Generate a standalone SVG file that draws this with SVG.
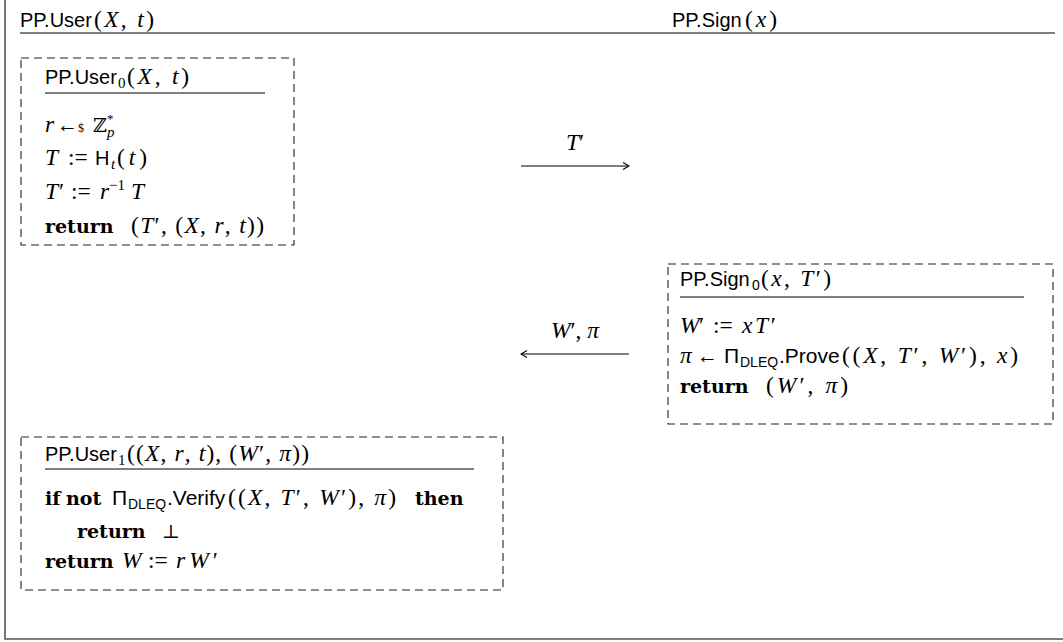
<svg xmlns="http://www.w3.org/2000/svg" width="1063" height="642" viewBox="0 0 1063 642">
<defs>
<style>
text{font-size:23.5px;fill:#000;font-family:"Liberation Serif","DejaVu Serif",serif}
.sf{font-family:"Liberation Sans","DejaVu Sans",sans-serif;font-size:20px}
.sf21{font-family:"Liberation Sans","DejaVu Sans",sans-serif;font-size:21px}
.ss{font-family:"Liberation Sans","DejaVu Sans",sans-serif;font-size:14px}
.mi{font-style:italic}
.bf{font-family:"DejaVu Serif",serif;font-weight:bold;font-size:19px}
.sm{font-size:15px}
.bb{font-family:"DejaVu Serif",serif;font-size:19px}
.ar{font-size:21px}
.dash{fill:none;stroke:#222;stroke-width:1.1;stroke-dasharray:8 5}
.rule{stroke:#000;stroke-width:1}
.frame{fill:none;stroke:#555;stroke-width:1.6}
.conn{stroke:#000;stroke-width:1.1;fill:none}
</style>
<marker id="head" viewBox="0 0 10 10" refX="9" refY="5" markerWidth="10" markerHeight="10" markerUnits="userSpaceOnUse" orient="auto-start-reverse">
<path d="M3,1.5 L9,5 L3,8.5" fill="none" stroke="#000" stroke-width="1.1"/>
</marker>
</defs>
<rect width="1063" height="642" fill="#fff"/>

<g id="frame">
<polyline class="frame" points="5,0 5,639 1063,639"/>
<line class="frame" x1="20" y1="33" x2="1055" y2="33"/>
<text y="27"><tspan class="sf" x="20">PP.User</tspan><tspan x="94" textLength="60" lengthAdjust="spacing">(<tspan class="mi">X</tspan>, <tspan class="mi">t</tspan>)</tspan></text>
<text y="27"><tspan class="sf" x="672">PP.Sign</tspan><tspan x="745" textLength="32" lengthAdjust="spacing">(<tspan class="mi">x</tspan>)</tspan></text>
</g>

<g id="user0">
<rect class="dash" x="21" y="58" width="273" height="187"/>
<text y="84"><tspan class="sf" x="45">PP.User</tspan><tspan class="sm" x="118" dy="4">0</tspan><tspan x="127" dy="-4" textLength="62" lengthAdjust="spacing">(<tspan class="mi">X</tspan>, <tspan class="mi">t</tspan>)</tspan></text>
<line class="rule" x1="45" y1="93" x2="265" y2="93"/>
<text y="132"><tspan class="mi" x="45">r</tspan><tspan class="ar" x="57">←</tspan><tspan x="78" font-size="12">$</tspan><tspan class="bb" x="93">ℤ</tspan><tspan font-size="13" x="107" dy="-9">*</tspan></text>
<text y="137"><tspan class="mi sm" x="107">p</tspan></text>
<text y="165"><tspan class="mi" x="45">T</tspan><tspan x="68">:=</tspan><tspan class="sf" x="95">H</tspan><tspan class="mi sm" x="111" dy="4">t</tspan><tspan x="117" dy="-4" textLength="30" lengthAdjust="spacing">(<tspan class="mi">t</tspan>)</tspan></text>
<text y="199"><tspan class="mi" x="45">T</tspan><tspan x="59">′</tspan><tspan x="71">:=</tspan><tspan class="mi" x="100">r</tspan><tspan class="sm" x="109" dy="-9">−1</tspan><tspan class="mi" x="131" dy="9">T</tspan></text>
<text y="233"><tspan class="bf" x="45">return</tspan><tspan x="131" textLength="133" lengthAdjust="spacing">(<tspan class="mi">T</tspan>′, (<tspan class="mi">X</tspan>, <tspan class="mi">r</tspan>, <tspan class="mi">t</tspan>))</tspan></text>
</g>

<g id="sign0">
<rect class="dash" x="668" y="264" width="385" height="160"/>
<text y="286"><tspan class="sf" x="680">PP.Sign</tspan><tspan class="ss" x="752" dy="4">0</tspan><tspan x="761" dy="-4" textLength="70" lengthAdjust="spacing">(<tspan class="mi">x</tspan>, <tspan class="mi">T</tspan>′)</tspan></text>
<line class="rule" x1="680" y1="297" x2="1024" y2="297"/>
<text y="333"><tspan class="mi" x="680">W</tspan><tspan x="699">′</tspan><tspan x="713">:=</tspan><tspan x="742" textLength="34" lengthAdjust="spacing"><tspan class="mi">xT</tspan>′</tspan></text>
<text y="363"><tspan class="mi" x="680">π</tspan><tspan class="ar" x="697">←</tspan><tspan class="sf21" x="724">Π</tspan><tspan class="ss" x="740" dy="4">DLEQ</tspan><tspan class="sf21" x="779" dy="-4">.Prove</tspan><tspan x="842" textLength="176" lengthAdjust="spacing">((<tspan class="mi">X</tspan>, <tspan class="mi">T</tspan>′, <tspan class="mi">W</tspan>′), <tspan class="mi">x</tspan>)</tspan></text>
<text y="393"><tspan class="bf" x="680">return</tspan><tspan x="766" textLength="82" lengthAdjust="spacing">(<tspan class="mi">W</tspan>′, <tspan class="mi">π</tspan>)</tspan></text>
</g>

<g id="user1">
<rect class="dash" x="21" y="437" width="482" height="153"/>
<text y="461"><tspan class="sf" x="45">PP.User</tspan><tspan class="sm" x="118" dy="4">1</tspan><tspan x="127" dy="-4" textLength="182" lengthAdjust="spacing">((<tspan class="mi">X</tspan>, <tspan class="mi">r</tspan>, <tspan class="mi">t</tspan>), (<tspan class="mi">W</tspan>′, <tspan class="mi">π</tspan>))</tspan></text>
<line class="rule" x1="45" y1="469" x2="474" y2="469"/>
<text y="505"><tspan class="bf" x="45">if</tspan><tspan class="bf" x="66">not</tspan><tspan class="sf21" x="112">Π</tspan><tspan class="ss" x="128" dy="4">DLEQ</tspan><tspan class="sf21" x="167" dy="-4">.Verify</tspan><tspan x="228" textLength="168" lengthAdjust="spacing">((<tspan class="mi">X</tspan>, <tspan class="mi">T</tspan>′, <tspan class="mi">W</tspan>′), <tspan class="mi">π</tspan>)</tspan><tspan class="bf" x="415">then</tspan></text>
<text y="538"><tspan class="bf" x="77">return</tspan><tspan class="bb" x="162">⊥</tspan></text>
<text y="568"><tspan class="bf" x="45">return</tspan><tspan class="mi" x="122">W</tspan><tspan x="148">:=</tspan><tspan x="176" textLength="42" lengthAdjust="spacing"><tspan class="mi">rW</tspan>′</tspan></text>
</g>

<g id="connectors">
<line class="conn" x1="521" y1="166" x2="629" y2="166" marker-end="url(#head)"/>
<text x="575" y="150" text-anchor="middle"><tspan class="mi">T</tspan>′</text>
<line class="conn" x1="521" y1="354" x2="629" y2="354" marker-start="url(#head)"/>
<text x="575" y="338" text-anchor="middle"><tspan class="mi">W</tspan>′, <tspan class="mi">π</tspan></text>
</g>
</svg>
